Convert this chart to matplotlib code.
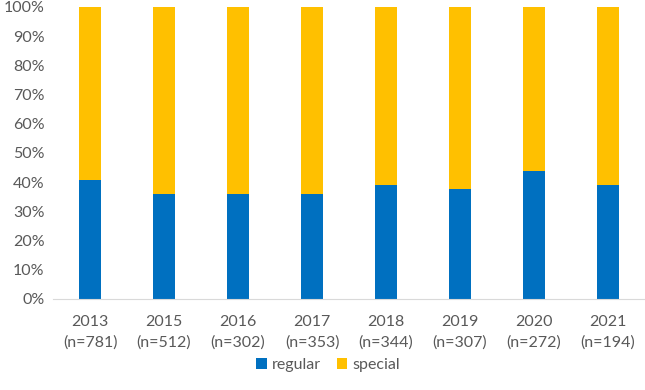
import matplotlib.pyplot as plt
import numpy as np
from matplotlib.ticker import PercentFormatter

plt.rcParams['font.family'] = ['Lato', 'DejaVu Sans']

years = ["2013", "2015", "2016", "2017", "2018", "2019", "2020", "2021"]
counts = [781, 512, 302, 353, 344, 307, 272, 194]
regular = [40.9, 36.1, 36.1, 35.8, 39.0, 37.8, 43.9, 39.2]
special = [100 - r for r in regular]

labels = [f"{y}\n(n={n})" for y, n in zip(years, counts)]
x = np.arange(len(years))

fig = plt.figure(figsize=(6.45, 3.9), dpi=100)
ax = fig.add_axes([53 / 645, 1 - 299 / 390, (645 - 53) / 645, (299 - 7) / 390])

ax.bar(x, regular, width=0.31, color="#0070C0", label="regular")
ax.bar(x, special, width=0.31, bottom=regular, color="#FFC000", label="special")

ax.set_xlim(-0.5, len(years) - 0.5)
ax.set_ylim(0, 100)
ax.set_yticks(np.arange(0, 101, 10))
ax.yaxis.set_major_formatter(PercentFormatter(decimals=0))
ax.set_xticks(x)
ax.set_xticklabels(labels, linespacing=1.55)

for s in ["top", "right", "left"]:
    ax.spines[s].set_visible(False)
ax.spines["bottom"].set_color("#D9D9D9")
ax.tick_params(axis="both", length=0, labelsize=11.5, colors="#595959")
ax.tick_params(axis="x", pad=11.5)
ax.tick_params(axis="y", pad=6)

fig.legend(loc="center", bbox_to_anchor=(328 / 645, 1 - 365 / 390), ncol=2,
           frameon=False, fontsize=11.5, handlelength=0.65, handleheight=0.65,
           handletextpad=0.3, columnspacing=1.0, labelcolor="#595959")

fig.savefig("out.png", dpi=100)
